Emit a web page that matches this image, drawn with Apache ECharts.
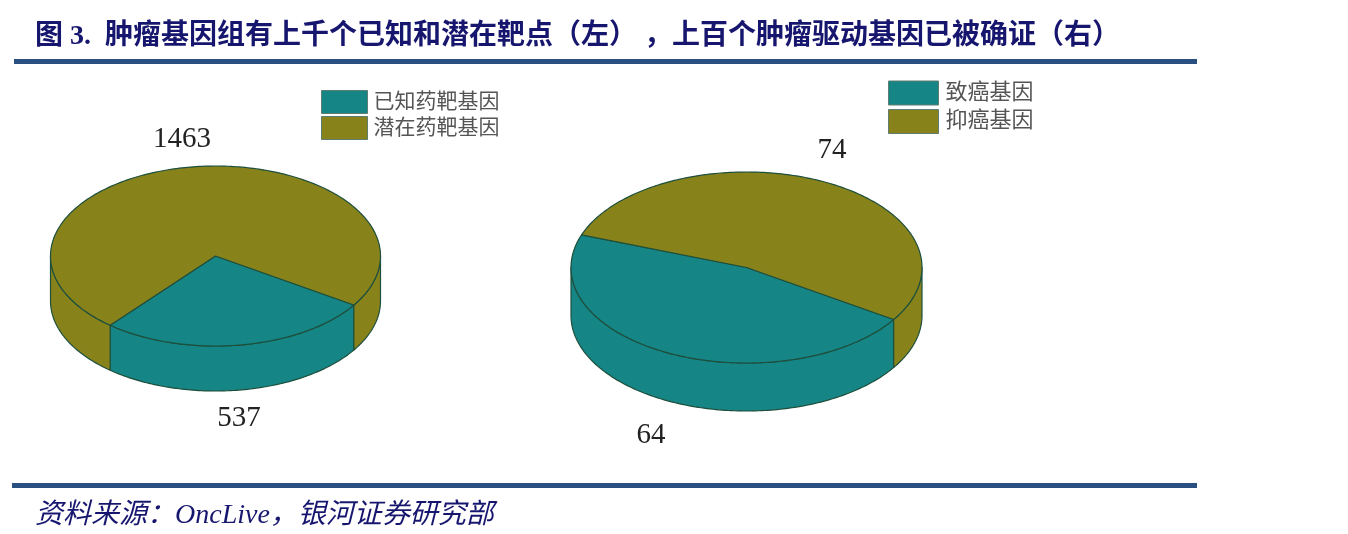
<!DOCTYPE html>
<html><head><meta charset="utf-8">
<style>html,body{margin:0;padding:0;background:#fff}#c{width:1348px;height:534px}</style>
<script src="https://cdn.jsdelivr.net/npm/echarts@6/dist/echarts.min.js"></script>
</head><body><div id="c"></div>
<script>
const chartTitle = '图 3.  肿瘤基因组有上千个已知和潜在靶点（左） ，上百个肿瘤驱动基因已被确证（右）';
const sourceNote = '资料来源：OncLive，银河证券研究部';
const leftCategories = ['已知药靶基因', '潜在药靶基因'];
const leftValues = [537, 1463];
const rightCategories = ['致癌基因', '抑癌基因'];
const rightValues = [64, 74];

const TEAL = '#158586', OLIVE = '#88821b', EDGE = '#1d4f3c';
const SERIF = '"Liberation Serif","Noto Sans CJK SC",serif';
const leftPie = {cx: 215.5, cy: 256, rx: 165, ry: 90, depth: 45, start: 123, labels: [[239, 418], [182, 139]], size: 29};
const rightPie = {cx: 746.5, cy: 267.5, rx: 175.5, ry: 95.5, depth: 48, start: 123, labels: [[651, 435], [832, 150]], size: 29};

function pieSeries(names, values, pie, colors) {
  const total = values.reduce((a, b) => a + b, 0);
  let acc = 0;
  return names.map((name, i) => {
    const from = pie.start + acc / total * 360;
    acc += values[i];
    const to = pie.start + acc / total * 360;
    const pt = (deg, dy) => {
      const r = deg * Math.PI / 180;
      return [pie.cx + pie.rx * Math.sin(r), pie.cy - pie.ry * Math.cos(r) + dy];
    };
    const arc = (a, b, dy) => {
      const out = [], n = Math.max(2, Math.ceil(Math.abs(b - a)));
      for (let k = 0; k <= n; k++) out.push(pt(a + (b - a) * k / n, dy));
      return out;
    };
    return {
      type: 'custom', name, coordinateSystem: 'none', silent: true, animation: false,
      z: 2 + i,
      itemStyle: {color: colors[i]},
      data: [[values[i]]],
      renderItem(params, api) {
        const style = {fill: colors[i], stroke: EDGE, lineWidth: 1.2, lineJoin: 'round'};
        const children = [];
        for (const k of [-1, 0, 1]) {
          const a = Math.max(from, 90 + 360 * k), b = Math.min(to, 270 + 360 * k);
          if (b > a) children.push({type: 'polygon', shape: {points: arc(a, b, 0).concat(arc(b, a, pie.depth))}, style});
        }
        children.push({type: 'polygon', shape: {points: [[pie.cx, pie.cy]].concat(arc(from, to, 0))}, style});
        children.push({type: 'text', style: {
          text: String(api.value(0)), x: pie.labels[i][0], y: pie.labels[i][1],
          align: 'center', verticalAlign: 'middle',
          fontFamily: SERIF, fontSize: pie.size, fill: '#222'}});
        return {type: 'group', children};
      }
    };
  });
}

const chart = echarts.init(document.getElementById('c'), null, {renderer: 'canvas'});
chart.setOption({
  backgroundColor: '#fff',
  animation: false,
  title: [
    {text: chartTitle, left: 35, top: 23, padding: 0,
     textStyle: {fontFamily: SERIF, fontSize: 28, fontWeight: 'bold', color: '#17166f'}},
    {text: sourceNote, left: 35, top: 502, padding: 0,
     textStyle: {fontFamily: SERIF, fontSize: 28, fontStyle: 'italic', fontWeight: 'normal', color: '#17166f'}}
  ],
  legend: [
    {data: leftCategories, left: 321, top: 90, orient: 'vertical', icon: 'rect', itemWidth: 46, itemHeight: 23, itemGap: 2, padding: 0,
     selectedMode: false, itemStyle: {borderColor: '#5f7d70', borderWidth: 1},
     textStyle: {fontFamily: SERIF, fontSize: 21, color: '#555', padding: [0, 0, 0, 1]}},
    {data: rightCategories, left: 888, top: 80.5, orient: 'vertical', icon: 'rect', itemWidth: 50, itemHeight: 24, itemGap: 3.5, padding: 0,
     selectedMode: false, itemStyle: {borderColor: '#5f7d70', borderWidth: 1},
     textStyle: {fontFamily: SERIF, fontSize: 22, color: '#555', padding: [0, 0, 0, 2]}}
  ],
  graphic: [
    {type: 'rect', shape: {x: 14, y: 59, width: 1183, height: 5}, style: {fill: '#2a5082'}, silent: true},
    {type: 'rect', shape: {x: 12, y: 483, width: 1185, height: 5}, style: {fill: '#2a5082'}, silent: true}
  ],
  series: pieSeries(leftCategories, leftValues, leftPie, [TEAL, OLIVE])
    .concat(pieSeries(rightCategories, rightValues, rightPie, [TEAL, OLIVE]))
});
</script></body></html>
